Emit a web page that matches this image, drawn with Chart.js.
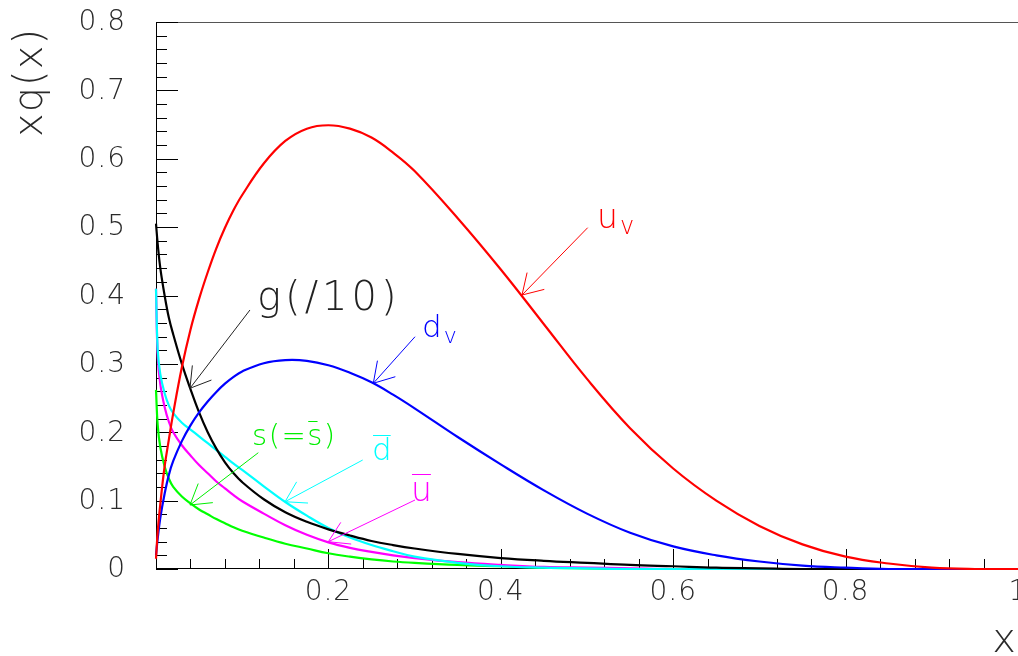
<!DOCTYPE html>
<html>
<head>
<meta charset="utf-8">
<script src="https://cdn.jsdelivr.net/npm/chart.js@4.4.0/dist/chart.umd.min.js"></script>
<style>
html, body { margin: 0; padding: 0; background: #fff; }
#wrap { width: 1018px; height: 656px; }
</style>
</head>
<body>
<div id="wrap"><canvas id="myChart" width="1018" height="656"></canvas></div>
<script>
// x grid shared by all curves
const xVals = [0, 0.002, 0.005, 0.01, 0.015, 0.02, 0.03, 0.04, 0.05, 0.06, 0.07, 0.08, 0.09, 0.1, 0.125, 0.15, 0.175, 0.2, 0.225, 0.25, 0.275, 0.3, 0.35, 0.4, 0.45, 0.5, 0.55, 0.6, 0.65, 0.7, 0.75, 0.8, 0.85, 0.9, 0.95, 1.0];

const uValence   = [0.015, 0.055, 0.095, 0.15, 0.19, 0.228, 0.295, 0.35, 0.395, 0.434, 0.469, 0.499, 0.525, 0.547, 0.593, 0.626, 0.644, 0.649, 0.644, 0.631, 0.609, 0.582, 0.513, 0.438, 0.358, 0.278, 0.206, 0.147, 0.1, 0.063, 0.036, 0.018, 0.008, 0.002, 0, 0];
const dValence   = [0.02, 0.045, 0.075, 0.11, 0.138, 0.158, 0.187, 0.21, 0.229, 0.245, 0.259, 0.271, 0.281, 0.289, 0.301, 0.3055, 0.3045, 0.298, 0.287, 0.273, 0.255, 0.235, 0.193, 0.153, 0.115, 0.081, 0.053, 0.033, 0.02, 0.011, 0.005, 0.002, 0, 0, 0, 0];
const gluonTenth = [0.505, 0.475, 0.44, 0.40, 0.367, 0.343, 0.30, 0.263, 0.229, 0.2, 0.176, 0.156, 0.14, 0.127, 0.102, 0.083, 0.069, 0.058, 0.049, 0.041, 0.035, 0.030, 0.022, 0.016, 0.012, 0.009, 0.006, 0.004, 0.002, 0.001, 0, 0, 0, 0, 0, 0];
const dBar       = [0.41, 0.32, 0.285, 0.257, 0.239, 0.228, 0.214, 0.204, 0.194, 0.184, 0.174, 0.164, 0.154, 0.145, 0.121, 0.098, 0.078, 0.06, 0.046, 0.035, 0.026, 0.018, 0.009, 0.004, 0.002, 0.001, 0, 0, 0, 0, 0, 0, 0, 0, 0, 0];
const uBar       = [0.41, 0.31, 0.27, 0.237, 0.215, 0.2, 0.181, 0.166, 0.152, 0.14, 0.128, 0.118, 0.108, 0.099, 0.081, 0.064, 0.05, 0.039, 0.031, 0.025, 0.02, 0.016, 0.01, 0.006, 0.003, 0.002, 0.001, 0, 0, 0, 0, 0, 0, 0, 0, 0];
const sQuark     = [0.262, 0.21, 0.178, 0.15, 0.132, 0.12, 0.106, 0.096, 0.087, 0.08, 0.073, 0.067, 0.061, 0.056, 0.046, 0.037, 0.03, 0.023, 0.018, 0.014, 0.011, 0.009, 0.006, 0.004, 0.002, 0.001, 0, 0, 0, 0, 0, 0, 0, 0, 0, 0];

const xTickLabels = ['0.2', '0.4', '0.6', '0.8', '1'];
const yTickLabels = ['0', '0.1', '0.2', '0.3', '0.4', '0.5', '0.6', '0.7', '0.8'];

// curve labels: text, overbar, subscript, anchor / arrow tail / arrow tip in data coords
const curveNotes = [
    { text: 'u', sub: 'v', bar: false, color: '#ff0000', size: 33, gap: 4, at: [0.5116, 0.4987], tail: [0.5008, 0.4992], tip: [0.4246, 0.4007] },
    { text: 'd', sub: 'v', bar: false, color: '#0000ff', size: 31, gap: 4, at: [0.3086, 0.3393], tail: [0.3005, 0.3397], tip: [0.2521, 0.2716] },
    { text: 'g(/10)', sub: '', bar: false, color: '#222222', size: 40, gap: 4, at: [0.1172, 0.3788], tail: [0.109, 0.3788], tip: [0.0394, 0.2643] },
    { text: 's(=s)', sub: '', bar: 'last', color: '#00ee00', size: 29, gap: 1.5, at: [0.1114, 0.1814], tail: [0.1187, 0.1701], tip: [0.0394, 0.0936] },
    { text: 'd', sub: '', bar: 'all', color: '#00ffff', size: 31, gap: 4, at: [0.2506, 0.1594], tail: [0.2398, 0.1594], tip: [0.1497, 0.0984] },
    { text: 'u', sub: '', bar: 'all', color: '#ff00ff', size: 33, gap: 4, at: [0.2958, 0.0994], tail: [0.3005, 0.1009], tip: [0.1999, 0.0399] }
];

const FONT = '"DejaVu Sans", sans-serif';

function pts(ys) {
    return xVals.map(function (x, i) { return { x: x, y: ys[i] }; });
}

function curve(ys, color) {
    return {
        data: pts(ys),
        borderColor: color,
        borderWidth: 2.2,
        pointRadius: 0,
        fill: false,
        clip: 3,
        tension: 0.4
    };
}

const rootAxes = {
    id: 'rootAxes',
    beforeDatasetsDraw(chart) {
        const ctx = chart.ctx;
        const a = chart.chartArea;
        const xs = chart.scales.x, ys = chart.scales.y;
        ctx.save();
        ctx.lineWidth = 1;
        ctx.strokeStyle = '#555';
        ctx.beginPath();
        ctx.moveTo(a.left, a.top + 0.5);
        ctx.lineTo(a.right, a.top + 0.5);
        ctx.stroke();
        ctx.strokeStyle = '#000';
        ctx.beginPath();
        ctx.moveTo(a.left + 0.5, a.bottom);
        ctx.lineTo(a.left + 0.5, a.top);
        ctx.moveTo(a.left, a.bottom - 0.5);
        ctx.lineTo(a.right, a.bottom - 0.5);
        // x ticks, 5 divisions per major step
        const xt = xs.ticks.map(t => t.value);
        for (let i = 0; i < xt.length; i++) {
            for (let k = 0; k < 5; k++) {
                if (i === xt.length - 1 && k > 0) break;
                const v = xt[i] + k * (xt[1] - xt[0]) / 5;
                const px = Math.round(xs.getPixelForValue(v)) + 0.5;
                const len = k === 0 ? 20 : 10;
                ctx.moveTo(px, a.bottom);
                ctx.lineTo(px, a.bottom - len);
            }
        }
        const yt = ys.ticks.map(t => t.value);
        for (let i = 0; i < yt.length; i++) {
            for (let k = 0; k < 5; k++) {
                if (i === yt.length - 1 && k > 0) break;
                const v = yt[i] + k * (yt[1] - yt[0]) / 5;
                const py = Math.round(ys.getPixelForValue(v)) + 0.5;
                const len = k === 0 ? 22 : 11;
                ctx.moveTo(a.left, py);
                ctx.lineTo(a.left + len, py);
            }
        }
        ctx.stroke();

        // tick labels
        ctx.fillStyle = '#2a2a2a';
        ctx.font = '200 28px ' + FONT;
        ctx.letterSpacing = '1px';
        ctx.textAlign = 'center';
        ctx.textBaseline = 'middle';
        xt.slice(1).forEach(function (v, i) {
            ctx.fillText(xTickLabels[i], xs.getPixelForValue(v), a.bottom + 24);
        });
        ctx.textAlign = 'right';
        yt.forEach(function (v, i) {
            ctx.fillText(yTickLabels[i], a.left - 30, ys.getPixelForValue(v) + 1);
        });

        // axis titles
        ctx.font = '200 40px ' + FONT;
        ctx.textAlign = 'right';
        ctx.textBaseline = 'alphabetic';
        ctx.fillText('x', 1017, 652);
        ctx.translate(42, 28);
        ctx.rotate(-Math.PI / 2);
        ctx.fillText('xq(x)', 0, 0);
        ctx.restore();
    },
    afterDatasetsDraw(chart) {
        const ctx = chart.ctx;
        const xs = chart.scales.x, ys = chart.scales.y;
        ctx.save();
        curveNotes.forEach(function (n) {
            ctx.strokeStyle = n.color;
            ctx.fillStyle = n.color;
            ctx.lineWidth = 1;
            // arrow
            const tx = xs.getPixelForValue(n.tail[0]), ty = ys.getPixelForValue(n.tail[1]);
            const hx = xs.getPixelForValue(n.tip[0]), hy = ys.getPixelForValue(n.tip[1]);
            const ang = Math.atan2(ty - hy, tx - hx);
            ctx.beginPath();
            ctx.moveTo(tx, ty);
            ctx.lineTo(hx, hy);
            [-0.55, 0.55].forEach(function (d) {
                ctx.moveTo(hx, hy);
                ctx.lineTo(hx + 23 * Math.cos(ang + d), hy + 23 * Math.sin(ang + d));
            });
            ctx.stroke();
            // text
            const lx = xs.getPixelForValue(n.at[0]), ly = ys.getPixelForValue(n.at[1]);
            ctx.font = '200 ' + n.size + 'px ' + FONT;
            ctx.letterSpacing = n.gap + 'px';
            ctx.textAlign = 'left';
            ctx.textBaseline = 'alphabetic';
            ctx.fillText(n.text, lx, ly);
            const w = ctx.measureText(n.text).width;
            if (n.bar) {
                const wl = ctx.measureText(n.text.slice(-1)).width;
                let bx0 = lx, bx1 = lx + w - n.gap;
                if (n.bar === 'last') {
                    bx0 = lx + ctx.measureText(n.text.slice(0, -2)).width;
                    bx1 = bx0 + wl - n.gap;
                }
                const by = Math.round(ly - n.size * 0.82) + 0.5;
                ctx.beginPath();
                ctx.moveTo(bx0 + 1, by);
                ctx.lineTo(bx1 - 1, by);
                ctx.stroke();
            }
            if (n.sub) {
                ctx.font = '200 ' + Math.round(n.size * 0.72) + 'px ' + FONT;
                ctx.fillText(n.sub, lx + w - 2, ly + 6);
            }
        });
        ctx.restore();
    }
};

const ctx = document.getElementById('myChart').getContext('2d');
const myChart = new Chart(ctx, {
    type: 'line',
    data: {
        datasets: [
            curve(uValence, '#ff0000'),
            curve(dValence, '#0000ff'),
            curve(gluonTenth, '#000000'),
            curve(dBar, '#00ffff'),
            curve(uBar, '#ff00ff'),
            curve(sQuark, '#00ff00')
        ]
    },
    options: {
        responsive: false,
        animation: false,
        devicePixelRatio: 1,
        layout: { padding: { left: 156, right: 0, top: 22, bottom: 87 } },
        plugins: { legend: { display: false }, tooltip: { enabled: false } },
        scales: {
            x: { type: 'linear', min: 0, max: 1, display: false, ticks: { stepSize: 0.2 } },
            y: { type: 'linear', min: 0, max: 0.8, display: false, ticks: { stepSize: 0.1 } }
        }
    },
    plugins: [rootAxes]
});
</script>
</body>
</html>
